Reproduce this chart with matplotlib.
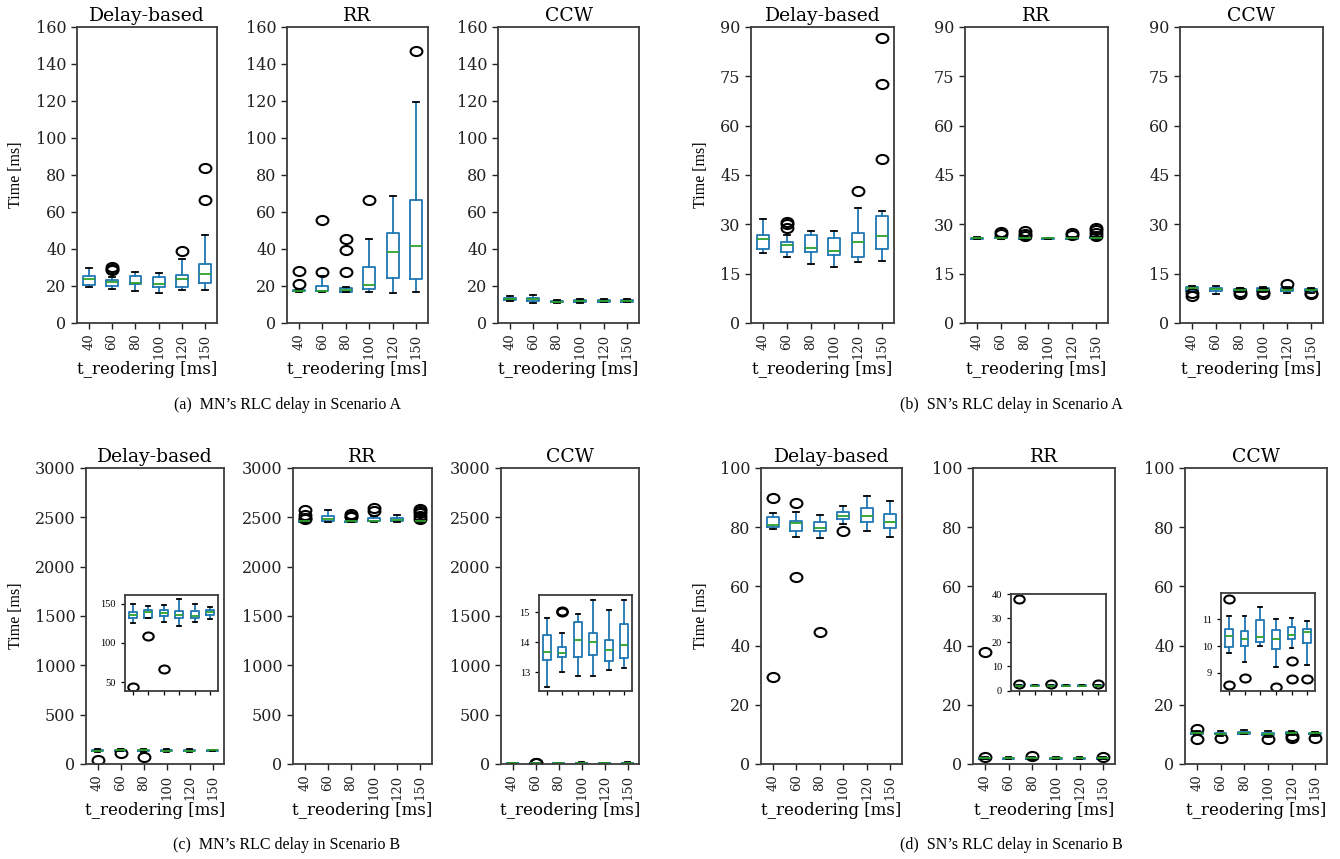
import numpy as np
import matplotlib
matplotlib.use("Agg")
import matplotlib.pyplot as plt
from matplotlib.path import Path
from matplotlib.transforms import Affine2D

W, H = 1340, 859

labels = ["40", "60", "80", "100", "120", "150"]

# box stats per t_reordering: [whislo, q1, med, q3, whishi]
# (a) MN, scenario A
a_delay = [[19.3, 20.5, 23.6, 25.4, 29.9], [18.5, 20.2, 22.1, 23.0, 25.0], [17.1, 20.9, 21.8, 25.4, 27.7],
           [16.2, 19.6, 21.1, 25.0, 27.2], [17.6, 19.3, 23.6, 26.1, 34.6], [18.0, 21.8, 26.5, 32.0, 47.3]]
a_delay_fl = [[], [28.6, 29.4, 30.1], [], [], [39.1], [66.4, 83.9]]
a_rr = [[16.7, 17.3, 17.5, 18.0, 18.0], [16.7, 17.1, 17.5, 20.2, 25.2], [16.6, 16.9, 17.6, 18.9, 19.6],
        [16.6, 18.4, 20.5, 30.1, 45.4], [16.4, 24.1, 38.3, 48.6, 68.4], [16.6, 23.6, 41.6, 66.6, 119.2]]
a_rr_fl = [[21.1, 28.3], [27.7, 55.6], [27.5, 39.4, 45.2], [66.4], [], [147.2]]
a_ccw = [[11.9, 12.4, 13.0, 13.7, 14.6], [10.6, 12.1, 12.8, 13.7, 14.9], [10.8, 11.2, 11.5, 11.9, 12.4],
         [11.0, 11.5, 11.9, 12.4, 12.8], [11.2, 11.5, 12.1, 12.4, 12.8], [11.2, 11.5, 12.1, 12.4, 12.8]]
a_ccw_fl = [[], [], [], [], [], []]

# (b) SN, scenario A
b_delay = [[21.4, 22.5, 25.4, 26.7, 31.6], [20.2, 21.7, 23.7, 24.5, 26.9], [18.0, 21.7, 22.9, 26.7, 28.1],
           [17.0, 20.7, 22.0, 25.7, 28.1], [18.6, 20.2, 24.5, 27.5, 35.0], [18.8, 22.4, 26.5, 32.4, 34.2]]
b_delay_fl = [[], [29.0, 30.2, 30.8], [], [], [40.0], [49.8, 72.7, 86.7]]
b_rr = [[25.5, 25.6, 25.8, 25.9, 26.1], [25.6, 25.7, 25.9, 26.0, 26.2], [25.5, 25.6, 25.8, 25.9, 26.0],
        [25.5, 25.6, 25.7, 25.8, 25.9], [25.5, 25.6, 25.8, 25.9, 26.0], [25.5, 25.7, 25.9, 26.0, 26.2]]
b_rr_fl = [[], [27.1, 27.6], [26.6, 27.2, 28.0], [], [26.8, 27.3], [26.5, 27.3, 28.3, 29.0]]
b_ccw = [[9.3, 9.7, 10.6, 11.0, 11.3], [8.8, 9.6, 10.2, 10.6, 11.3], [9.4, 9.7, 10.1, 10.4, 10.7],
         [9.5, 9.8, 10.1, 10.5, 10.8], [9.0, 9.7, 10.1, 10.6, 10.9], [9.2, 9.6, 10.0, 10.3, 10.7]]
b_ccw_fl = [[8.2, 9.0], [], [8.9, 9.3], [8.9, 9.3], [12.0], [8.7, 9.1]]

# (c) MN, scenario B
c_delay = [[125.0, 132.6, 136.5, 140.3, 150.5], [131.6, 132.6, 139.4, 142.0, 148.0], [126.3, 134.3, 138.5, 142.0, 149.2],
           [122.0, 132.6, 136.5, 141.0, 156.0], [126.3, 131.4, 135.2, 141.0, 150.5], [130.5, 136.0, 139.4, 142.8, 146.7]]
c_delay_fl = [[44.0], [109.2], [66.3], [], [], []]
c_rr = [[2450, 2455, 2462, 2466, 2470], [2452, 2463, 2486, 2513, 2574], [2452, 2456, 2460, 2464, 2468],
        [2452, 2460, 2463, 2490, 2513], [2452, 2460, 2473, 2490, 2520], [2452, 2458, 2462, 2466, 2470]]
c_rr_fl = [[2480, 2497, 2525, 2575], [], [2506, 2515, 2533], [2567, 2591], [], [2486, 2513, 2540, 2560, 2580]]
c_ccw = [[12.51, 13.40, 13.67, 14.23, 14.79], [13.00, 13.49, 13.64, 13.84, 14.31], [12.87, 13.49, 14.06, 14.67, 14.93],
         [12.87, 13.56, 13.99, 14.31, 15.40], [13.07, 13.36, 13.73, 14.06, 15.06], [13.13, 13.47, 13.89, 14.62, 15.42]]
c_ccw_fl = [[], [15.0, 15.05], [], [], [], []]

# (d) SN, scenario B
d_delay = [[79.4, 80.0, 80.6, 83.3, 84.7], [76.7, 78.7, 81.3, 82.1, 85.0], [76.5, 78.7, 79.6, 81.6, 84.2],
           [81.1, 82.7, 83.7, 85.1, 87.2], [78.7, 81.6, 83.7, 86.6, 90.7], [76.7, 79.7, 81.6, 84.5, 88.9]]
d_delay_fl = [[29.3, 89.8], [63.3, 88.1], [44.5], [78.7], [], []]
d_rr = [[1.7, 1.85, 2.0, 2.1, 2.25], [1.7, 1.85, 2.0, 2.1, 2.25], [1.7, 1.85, 2.0, 2.1, 2.25],
        [1.7, 1.85, 2.0, 2.1, 2.25], [1.7, 1.85, 2.0, 2.1, 2.25], [1.7, 1.85, 2.0, 2.1, 2.25]]
d_rr_fl = [[2.5, 38.0], [], [2.6], [], [], [2.5]]
d_ccw = [[9.76, 9.98, 10.36, 10.65, 11.10], [9.40, 9.99, 10.26, 10.55, 11.11], [9.99, 10.15, 10.34, 10.95, 11.44],
         [9.23, 9.90, 10.26, 10.59, 11.01], [9.94, 10.26, 10.40, 10.71, 11.04], [9.31, 10.11, 10.53, 10.63, 10.94]]
d_ccw_fl = [[8.54, 11.75], [8.83], [], [8.48], [8.76, 9.43], [8.79]]

titles = ["Delay-based", "RR", "CCW"]
captions = ["(a)  MN\u2019s RLC delay in Scenario A", "(b)  SN\u2019s RLC delay in Scenario A",
            "(c)  MN\u2019s RLC delay in Scenario B", "(d)  SN\u2019s RLC delay in Scenario B"]

SERIF = "DejaVu Serif"
TIMES = "Liberation Serif"
SPINE = "#3c3c3c"

# slightly wide open circle, like the stretched original
ELLIPSE = Path.unit_circle().transformed(Affine2D().scale(1.3, 1.0))

fig = plt.figure(figsize=(W / 100, H / 100), dpi=100)


def add_px(l, r, t, b):
    return fig.add_axes([l / W, 1 - b / H, (r - l) / W, (b - t) / H])


def stats(rows, fl):
    return [dict(whislo=r[0], q1=r[1], med=r[2], q3=r[3], whishi=r[4], fliers=f) for r, f in zip(rows, fl)]


def boxes(ax, rows, fl, ms=8.5):
    ax.bxp(stats(rows, fl), positions=range(1, 7), widths=0.5,
           boxprops=dict(color="C0", lw=1.3), whiskerprops=dict(color="C0", lw=1.3),
           capprops=dict(color="k", lw=1.3), medianprops=dict(color="C2", lw=1.3),
           flierprops=dict(marker=ELLIPSE, markerfacecolor="none", markeredgecolor="k",
                           markersize=ms, markeredgewidth=1.5))
    ax.set_xlim(0.5, 6.5)
    for s in ax.spines.values():
        s.set_color(SPINE)
        s.set_linewidth(1.3)


def panel(l, r, t, b, rows, fl, ymax, step, title, first, ylab_x):
    ax = add_px(l, r, t, b)
    boxes(ax, rows, fl)
    ax.set_ylim(0, ymax)
    ax.set_yticks(np.arange(0, ymax + 1, step))
    ax.set_xticks(range(1, 7))
    ax.set_xticklabels(labels, rotation=90, fontfamily=SERIF, fontsize=9.5)
    for tl in ax.get_yticklabels():
        tl.set_fontfamily(SERIF)
        tl.set_fontsize(11.5)
    ax.tick_params(colors="#222222", width=1.0, length=4)
    ax.set_title(title, fontfamily=SERIF, fontsize=13.5, pad=4)
    ax.set_xlabel("t_reodering [ms]", fontfamily=SERIF, fontsize=12, labelpad=2)
    if first:
        ax.set_ylabel("Time [ms]", fontfamily=TIMES, fontsize=11.5)
        ax.yaxis.set_label_coords((ylab_x - l) / (r - l), 0.5)
    return ax


def inset(l, r, t, b, rows, fl, ylim, ticks):
    ax = add_px(l, r, t, b)
    boxes(ax, rows, fl, ms=7.5)
    ax.set_ylim(*ylim)
    ax.set_yticks(ticks)
    ax.set_xticks(range(1, 7))
    ax.set_xticklabels([])
    ax.tick_params(labelsize=7.5, width=0.9, length=3)
    for tl in ax.get_yticklabels():
        tl.set_fontfamily(TIMES)
    return ax


# (a)
top_a, bot_a = 27, 323
panel(77, 217, top_a, bot_a, a_delay, a_delay_fl, 160, 20, titles[0], True, 24)
panel(287, 428, top_a, bot_a, a_rr, a_rr_fl, 160, 20, titles[1], False, 0)
panel(498, 639, top_a, bot_a, a_ccw, a_ccw_fl, 160, 20, titles[2], False, 0)
# (b)
panel(751, 894, top_a, bot_a, b_delay, b_delay_fl, 90, 15, titles[0], True, 709)
panel(965, 1108, top_a, bot_a, b_rr, b_rr_fl, 90, 15, titles[1], False, 0)
panel(1180, 1323, top_a, bot_a, b_ccw, b_ccw_fl, 90, 15, titles[2], False, 0)
# (c)
top_c, bot_c = 468, 764
panel(86, 224, top_c, bot_c, c_delay, c_delay_fl, 3000, 500, titles[0], True, 24)
panel(293, 432, top_c, bot_c, c_rr, c_rr_fl, 3000, 500, titles[1], False, 0)
panel(501, 639, top_c, bot_c, c_ccw, c_ccw_fl, 3000, 500, titles[2], False, 0)
inset(125, 218, 595, 691, c_delay, c_delay_fl, (38.5, 161.5), [50, 100, 150])
inset(539, 632, 595, 691, c_ccw, c_ccw_fl, (12.37, 15.57), [13, 14, 15])
# (d)
panel(761, 902, top_c, bot_c, d_delay, d_delay_fl, 100, 20, titles[0], True, 709)
panel(973, 1115, top_c, bot_c, d_rr, d_rr_fl, 100, 20, titles[1], False, 0)
panel(1185, 1327, top_c, bot_c, d_ccw, d_ccw_fl, 100, 20, titles[2], False, 0)
inset(1011, 1106, 594, 691, d_rr, d_rr_fl, (-0.2, 40), [0, 10, 20, 30, 40])
inset(1221, 1315, 593, 691, d_ccw, d_ccw_fl, (8.33, 11.97), [9, 10, 11])

cap_xy = [(287, 405), (1011, 405), (287, 845), (1011, 845)]
for (cx, cy), txt in zip(cap_xy, captions):
    fig.text(cx / W, 1 - cy / H, txt, ha="center", va="center", fontfamily=TIMES, fontsize=11.5)

fig.savefig("out.png", dpi=100)
